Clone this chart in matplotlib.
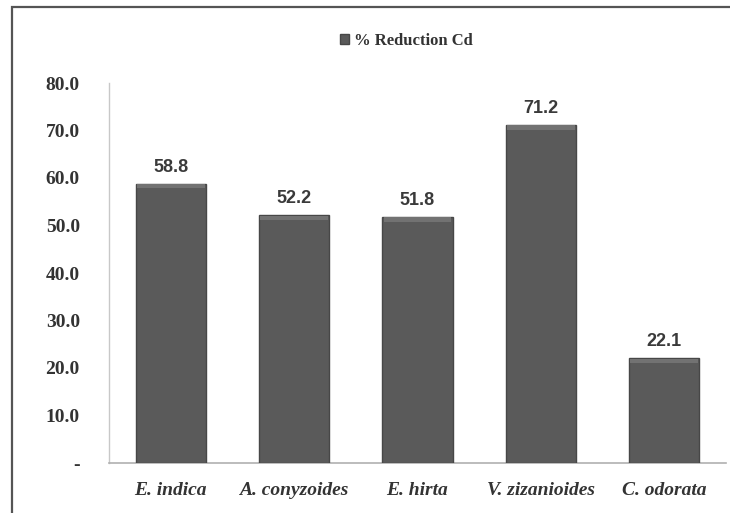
import matplotlib
matplotlib.use("Agg")
import matplotlib.pyplot as plt
from matplotlib.patches import Rectangle

species = ["E. indica", "A. conyzoides", "E. hirta", "V. zizanioides", "C. odorata"]
reduction_cd = [58.8, 52.2, 51.8, 71.2, 22.1]
yticks = [0, 10, 20, 30, 40, 50, 60, 70, 80]
ytick_labels = ["-", "10.0", "20.0", "30.0", "40.0", "50.0", "60.0", "70.0", "80.0"]
series_name = "% Reduction Cd"

W, H = 730, 513
fig = plt.figure(figsize=(W / 100, H / 100), dpi=100)
ax = fig.add_axes([109 / W, 1 - 463 / H, (726 - 109) / W, (463 - 83) / H])

x = list(range(len(species)))
bars = ax.bar(x, reduction_cd, width=0.57, color="#5a5a5a", edgecolor="#474747",
              linewidth=1.0, label=series_name, zorder=3)

# subtle bevel highlight at bar tops
for xi, v in zip(x, reduction_cd):
    ax.bar(xi, 0.9, bottom=v - 1.0, width=0.55, color="#727272", linewidth=0, zorder=4)

for xi, v in zip(x, reduction_cd):
    ax.text(xi, v + 1.6, f"{v:.1f}", ha="center", va="bottom",
            fontsize=13, fontweight="bold", family="Liberation Sans", color="#3a3a3a")

ax.set_xlim(-0.5, len(species) - 0.5)
ax.set_ylim(0, 80)
ax.set_yticks(yticks)
ax.set_yticklabels(ytick_labels, fontsize=14, fontweight="bold",
                   family="Liberation Serif", color="#333333")
ax.set_xticks(x)
ax.set_xticklabels(species, fontsize=14, fontweight="bold", fontstyle="italic",
                   family="Liberation Serif", color="#333333")
ax.tick_params(axis="both", length=0)
ax.tick_params(axis="y", pad=21)
ax.tick_params(axis="x", pad=14)

for s in ["top", "right"]:
    ax.spines[s].set_visible(False)
ax.spines["left"].set_color("#c8c8c8")
ax.spines["bottom"].set_color("#b0b0b0")
ax.spines["left"].set_linewidth(1.0)
ax.spines["bottom"].set_linewidth(1.2)

leg = fig.legend(handles=[bars], labels=[series_name], loc="center",
                 bbox_to_anchor=(406 / W, 1 - 41 / H), frameon=False,
                 handlelength=0.55, handleheight=0.55, handletextpad=0.3,
                 prop={"family": "Liberation Serif", "weight": "bold", "size": 12})
for t in leg.get_texts():
    t.set_color("#333333")

# outer chart border (extends off the right and bottom edges)
fig.patches.append(Rectangle((12 / W, -0.1), 1.0, 1 - 7 / H + 0.1,
                             transform=fig.transFigure, fill=False,
                             edgecolor="#555555", linewidth=1.6))

fig.savefig("out.png", dpi=100)
